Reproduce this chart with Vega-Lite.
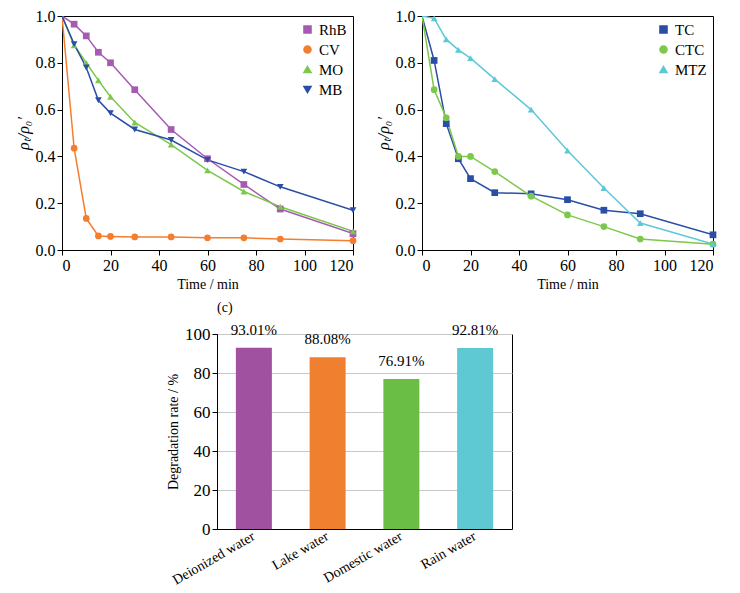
{
  "$schema": "https://vega.github.io/schema/vega-lite/v6.json",
  "padding": {"left": 14, "top": 7, "right": 5, "bottom": 2},
  "datasets": {
    "dyes": [
      {"t": 0, "v": 1.0, "s": "RhB"}, {"t": 5, "v": 0.965, "s": "RhB"}, {"t": 10, "v": 0.915, "s": "RhB"},
      {"t": 15, "v": 0.845, "s": "RhB"}, {"t": 20, "v": 0.80, "s": "RhB"}, {"t": 30, "v": 0.685, "s": "RhB"},
      {"t": 45, "v": 0.515, "s": "RhB"}, {"t": 60, "v": 0.39, "s": "RhB"}, {"t": 75, "v": 0.28, "s": "RhB"},
      {"t": 90, "v": 0.175, "s": "RhB"}, {"t": 120, "v": 0.07, "s": "RhB"},
      {"t": 0, "v": 1.0, "s": "CV"}, {"t": 5, "v": 0.435, "s": "CV"}, {"t": 10, "v": 0.135, "s": "CV"},
      {"t": 15, "v": 0.06, "s": "CV"}, {"t": 20, "v": 0.058, "s": "CV"}, {"t": 30, "v": 0.056, "s": "CV"},
      {"t": 45, "v": 0.056, "s": "CV"}, {"t": 60, "v": 0.052, "s": "CV"}, {"t": 75, "v": 0.052, "s": "CV"},
      {"t": 90, "v": 0.047, "s": "CV"}, {"t": 120, "v": 0.04, "s": "CV"},
      {"t": 0, "v": 1.0, "s": "MO"}, {"t": 5, "v": 0.875, "s": "MO"}, {"t": 10, "v": 0.80, "s": "MO"},
      {"t": 15, "v": 0.725, "s": "MO"}, {"t": 20, "v": 0.655, "s": "MO"}, {"t": 30, "v": 0.545, "s": "MO"},
      {"t": 45, "v": 0.45, "s": "MO"}, {"t": 60, "v": 0.34, "s": "MO"}, {"t": 75, "v": 0.25, "s": "MO"},
      {"t": 90, "v": 0.185, "s": "MO"}, {"t": 120, "v": 0.08, "s": "MO"},
      {"t": 0, "v": 1.0, "s": "MB"}, {"t": 5, "v": 0.88, "s": "MB"}, {"t": 10, "v": 0.78, "s": "MB"},
      {"t": 15, "v": 0.64, "s": "MB"}, {"t": 20, "v": 0.585, "s": "MB"}, {"t": 30, "v": 0.515, "s": "MB"},
      {"t": 45, "v": 0.47, "s": "MB"}, {"t": 60, "v": 0.385, "s": "MB"}, {"t": 75, "v": 0.335, "s": "MB"},
      {"t": 90, "v": 0.27, "s": "MB"}, {"t": 120, "v": 0.17, "s": "MB"}
    ],
    "drugs": [
      {"t": 0, "v": 1.0, "s": "TC"}, {"t": 5, "v": 0.81, "s": "TC"}, {"t": 10, "v": 0.54, "s": "TC"},
      {"t": 15, "v": 0.39, "s": "TC"}, {"t": 20, "v": 0.305, "s": "TC"}, {"t": 30, "v": 0.245, "s": "TC"},
      {"t": 45, "v": 0.24, "s": "TC"}, {"t": 60, "v": 0.215, "s": "TC"}, {"t": 75, "v": 0.17, "s": "TC"},
      {"t": 90, "v": 0.155, "s": "TC"}, {"t": 120, "v": 0.065, "s": "TC"},
      {"t": 0, "v": 1.0, "s": "CTC"}, {"t": 5, "v": 0.685, "s": "CTC"}, {"t": 10, "v": 0.565, "s": "CTC"},
      {"t": 15, "v": 0.40, "s": "CTC"}, {"t": 20, "v": 0.40, "s": "CTC"}, {"t": 30, "v": 0.335, "s": "CTC"},
      {"t": 45, "v": 0.23, "s": "CTC"}, {"t": 60, "v": 0.15, "s": "CTC"}, {"t": 75, "v": 0.10, "s": "CTC"},
      {"t": 90, "v": 0.047, "s": "CTC"}, {"t": 120, "v": 0.025, "s": "CTC"},
      {"t": 0, "v": 1.0, "s": "MTZ"}, {"t": 5, "v": 0.99, "s": "MTZ"}, {"t": 10, "v": 0.90, "s": "MTZ"},
      {"t": 15, "v": 0.855, "s": "MTZ"}, {"t": 20, "v": 0.82, "s": "MTZ"}, {"t": 30, "v": 0.73, "s": "MTZ"},
      {"t": 45, "v": 0.60, "s": "MTZ"}, {"t": 60, "v": 0.425, "s": "MTZ"}, {"t": 75, "v": 0.265, "s": "MTZ"},
      {"t": 90, "v": 0.115, "s": "MTZ"}, {"t": 120, "v": 0.025, "s": "MTZ"}
    ],
    "water": [
      {"w": "Deionized water", "rate": 93.01, "label": "93.01%"},
      {"w": "Lake water", "rate": 88.08, "label": "88.08%"},
      {"w": "Domestic water", "rate": 76.91, "label": "76.91%"},
      {"w": "Rain water", "rate": 92.81, "label": "92.81%"}
    ]
  },
  "vconcat": [
    {
      "hconcat": [
        {
          "width": 291,
          "height": 234,
          "data": {"name": "dyes"},
          "encoding": {
            "x": {"field": "t", "type": "quantitative", "scale": {"domain": [0, 120]},
              "axis": {"title": "Time / min", "values": [0, 20, 40, 60, 80, 100, 120]}},
            "y": {"field": "v", "type": "quantitative", "scale": {"domain": [0, 1]},
              "axis": {"title": "ρₜ/ρ₀′", "titleFontStyle": "italic", "titleFontSize": 16, "values": [0, 0.2, 0.4, 0.6, 0.8, 1.0], "format": ".1f"}},
            "color": {"field": "s", "type": "nominal",
              "scale": {"domain": ["RhB", "CV", "MO", "MB"], "range": ["#a55bb2", "#f47d2e", "#7cc84a", "#2a4ea6"]},
              "legend": {"title": null, "orient": "top-right", "offset": 6}}
          },
          "layer": [
            {
              "mark": {"type": "line", "strokeWidth": 1.5, "clip": true}
            },
            {
              "transform": [{"filter": "datum.t > 0"}],
              "mark": {"type": "point", "filled": true, "size": 45, "opacity": 1},
              "encoding": {
                "shape": {"field": "s", "type": "nominal",
                  "scale": {"domain": ["RhB", "CV", "MO", "MB"], "range": ["square", "circle", "triangle-up", "triangle-down"]}}
              }
            },
            {
              "data": {"values": [{}]},
              "mark": {"type": "text", "font": "Liberation Serif", "fontSize": 14, "align": "left"},
              "encoding": {"x": {"datum": 9}, "y": {"datum": 0.94}, "text": {"value": "(a)"}, "color": {"value": "black"}}
            }
          ]
        },
        {
          "width": 291,
          "height": 234,
          "data": {"name": "drugs"},
          "encoding": {
            "x": {"field": "t", "type": "quantitative", "scale": {"domain": [0, 120]},
              "axis": {"title": "Time / min", "values": [0, 20, 40, 60, 80, 100, 120]}},
            "y": {"field": "v", "type": "quantitative", "scale": {"domain": [0, 1]},
              "axis": {"title": "ρₜ/ρ₀′", "titleFontStyle": "italic", "titleFontSize": 16, "values": [0, 0.2, 0.4, 0.6, 0.8, 1.0], "format": ".1f"}},
            "color": {"field": "s", "type": "nominal",
              "scale": {"domain": ["TC", "CTC", "MTZ"], "range": ["#2a4ea6", "#7cc84a", "#5ec8d8"]},
              "legend": {"title": null, "orient": "top-right", "offset": 6}}
          },
          "layer": [
            {
              "mark": {"type": "line", "strokeWidth": 1.5, "clip": true}
            },
            {
              "transform": [{"filter": "datum.t > 0"}],
              "mark": {"type": "point", "filled": true, "size": 45, "opacity": 1},
              "encoding": {
                "shape": {"field": "s", "type": "nominal",
                  "scale": {"domain": ["TC", "CTC", "MTZ"], "range": ["square", "circle", "triangle-up"]}}
              }
            },
            {
              "data": {"values": [{}]},
              "mark": {"type": "text", "font": "Liberation Serif", "fontSize": 14, "align": "left"},
              "encoding": {"x": {"datum": 11}, "y": {"datum": 0.94}, "text": {"value": "(b)"}, "color": {"value": "black"}}
            }
          ]
        }
      ],
      "resolve": {"scale": {"color": "independent", "shape": "independent"}},
      "spacing": 17
    },
    {
      "hconcat": [
        {
          "width": 87,
          "height": 195,
          "data": {"values": []},
          "mark": {"type": "point"},
          "encoding": {},
          "view": {"stroke": null}
        },
        {
          "width": 295,
          "height": 195,
          "title": {"text": "(c)", "anchor": "start", "frame": "group", "dx": 0, "offset": 8, "fontSize": 14, "fontWeight": "normal", "font": "Liberation Serif", "color": "black"},
          "data": {"name": "water"},
          "encoding": {
            "x": {"field": "w", "type": "nominal", "sort": null,
              "axis": {"title": null, "labelAngle": -30, "labelAlign": "right", "labelBaseline": "middle", "labelFontSize": 14, "ticks": false, "labelPadding": 6}},
            "y": {"field": "rate", "type": "quantitative", "scale": {"domain": [0, 100]},
              "axis": {"title": "Degradation rate / %", "titleFontSize": 14, "labelFontSize": 17, "labelOverlap": false, "values": [0, 20, 40, 60, 80, 100], "grid": true, "gridColor": "#c8c8c8"}}
          },
          "layer": [
            {
              "mark": {"type": "bar", "width": 36},
              "encoding": {
                "color": {"field": "w", "type": "nominal", "sort": null, "legend": null,
                  "scale": {"range": ["#a052a0", "#f08030", "#6abd45", "#5ec8d3"]}}
              }
            },
            {
              "mark": {"type": "text", "font": "Liberation Serif", "fontSize": 15, "dy": -10, "baseline": "bottom"},
              "encoding": {"text": {"field": "label"}}
            }
          ]
        }
      ],
      "spacing": 17
    }
  ],
  "spacing": 8,
  "config": {
    "font": "Liberation Serif",
    "view": {"stroke": "black", "strokeWidth": 1},
    "axis": {
      "labelFont": "Liberation Serif", "titleFont": "Liberation Serif",
      "labelFontSize": 16, "titleFontSize": 14, "titleFontWeight": "normal",
      "labelColor": "black", "titleColor": "black",
      "domainColor": "black", "tickColor": "black", "grid": false, "tickSize": 5
    },
    "legend": {"labelFont": "Liberation Serif", "labelFontSize": 15, "labelColor": "black", "symbolSize": 50, "rowPadding": 4}
  }
}
